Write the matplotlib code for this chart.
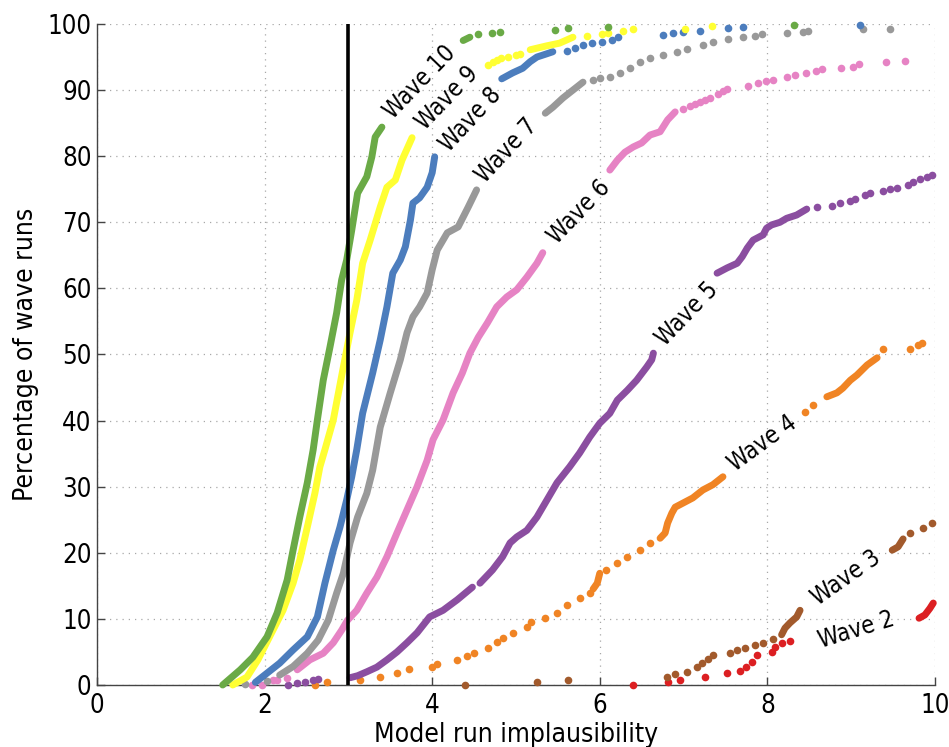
import numpy as np
import matplotlib
matplotlib.use('Agg')
import matplotlib.pyplot as plt

nan = np.nan

# ---------------- data ----------------
# Each wave: "line" = dense runs (drawn as thick line, nan separates runs),
#            "dot"  = isolated points
w10_line_x = [1.50, 1.71, 1.86, 2.03, 2.15, 2.27, 2.34, 2.42, 2.51, 2.58, 2.63, 2.70, 2.78, 2.86, 2.92, 2.98, 3.04, 3.11, 3.22, 3.28, 3.32, 3.40,
              nan, 4.37, 4.45]
w10_line_y = [0.0, 2.3, 4.2, 7.3, 10.9, 15.9, 20.4, 25.4, 30.6, 35.6, 40.1, 46.1, 51.1, 56.3, 61.3, 64.3, 68.8, 74.4, 76.9, 79.9, 82.9, 84.4,
              nan, 97.5, 98.0]
w10_dot_x = [4.55, 4.71, 4.81, 5.47, 5.62, 6.10, 8.32]
w10_dot_y = [98.5, 98.6, 98.8, 99.1, 99.4, 99.5, 99.8]

w9_line_x = [1.62, 1.79, 1.92, 2.06, 2.22, 2.34, 2.42, 2.51, 2.60, 2.66, 2.72, 2.82, 2.94, 3.02, 3.10, 3.17, 3.26, 3.38, 3.46, 3.56, 3.64, 3.76,
             nan, 5.17, 5.27, 5.37, 5.52, 5.68]
w9_line_y = [0.0, 1.2, 3.8, 7.3, 11.3, 15.4, 18.9, 23.9, 29.0, 33.0, 35.6, 40.1, 48.1, 53.3, 58.2, 63.8, 67.3, 72.3, 75.3, 76.4, 79.4, 82.8,
             nan, 96.1, 96.4, 96.7, 97.1, 98.0]
w9_dot_x = [4.67, 4.72, 4.77, 4.82, 4.90, 5.00, 5.05, 5.85, 6.03, 6.10, 6.28, 6.40, 7.02, 7.34]
w9_dot_y = [93.8, 94.2, 94.6, 94.8, 95.0, 95.3, 95.5, 98.2, 98.5, 98.6, 98.9, 99.2, 99.3, 99.7]

w8_line_x = [1.89, 2.03, 2.18, 2.34, 2.51, 2.63, 2.72, 2.82, 2.90, 2.98, 3.04, 3.10, 3.17, 3.29, 3.38, 3.46, 3.53, 3.62, 3.68, 3.74, 3.77, 3.85, 3.94, 4.00, 4.03,
             nan, 4.83, 4.96, 5.08, 5.17, 5.25, 5.37, 5.44]
w8_line_y = [0.4, 1.8, 3.3, 5.3, 7.3, 10.3, 15.4, 20.4, 23.9, 28.0, 31.5, 35.6, 41.1, 47.2, 52.2, 57.2, 62.3, 64.3, 66.3, 70.3, 72.9, 73.7, 75.3, 77.5, 79.9,
             nan, 91.7, 92.6, 93.3, 94.3, 95.0, 95.5, 95.8]
w8_dot_x = [5.61, 5.70, 5.80, 5.91, 6.03, 6.15, 6.22, 6.75, 6.87, 6.99, 7.20, 7.53, 7.71, 9.10]
w8_dot_y = [95.9, 96.4, 96.8, 97.1, 97.3, 97.6, 98.0, 98.3, 98.6, 98.8, 98.9, 99.4, 99.5, 99.8]

w7_line_x = [2.18, 2.34, 2.51, 2.64, 2.76, 2.86, 2.94, 3.02, 3.11, 3.22, 3.29, 3.38, 3.50, 3.62, 3.70, 3.77, 3.85, 3.94, 4.00, 4.06, 4.18, 4.31, 4.37, 4.43, 4.53,
             nan, 5.35, 5.44, 5.56, 5.68, 5.80]
w7_line_y = [1.5, 2.8, 4.8, 6.8, 9.8, 13.9, 16.9, 21.5, 25.4, 29.0, 32.5, 39.0, 44.2, 49.2, 53.3, 55.7, 57.2, 59.3, 62.8, 65.8, 68.4, 69.3, 70.8, 72.3, 74.9,
             nan, 86.5, 87.4, 88.8, 90.0, 91.2]
w7_dot_x = [1.77, 2.03, 5.92, 6.00, 6.12, 6.24, 6.36, 6.48, 6.60, 6.75, 6.92, 7.04, 7.23, 7.35, 7.53, 7.71, 7.85, 7.94, 8.23, 8.42, 8.48, 9.14, 9.46]
w7_dot_y = [0.2, 0.6, 91.5, 91.8, 92.0, 92.6, 93.3, 94.3, 94.9, 95.3, 95.8, 96.2, 96.8, 97.3, 97.7, 98.0, 98.2, 98.5, 98.6, 98.8, 98.9, 99.2, 99.3]

w6_line_x = [2.39, 2.54, 2.70, 2.82, 2.92, 2.99, 3.10, 3.22, 3.34, 3.46, 3.58, 3.70, 3.82, 3.94, 4.01, 4.13, 4.25, 4.36, 4.45, 4.55, 4.66, 4.77, 4.89, 5.01, 5.13, 5.25, 5.32,
             nan, 6.12, 6.21, 6.30, 6.40, 6.50, 6.60, 6.72, 6.81, 6.90]
w6_line_y = [2.3, 3.8, 4.8, 6.4, 8.3, 9.8, 11.3, 13.9, 16.3, 19.4, 23.0, 26.5, 30.0, 34.0, 37.1, 40.1, 44.2, 47.2, 50.2, 52.6, 54.8, 57.2, 58.7, 59.8, 61.7, 63.8, 65.4,
             nan, 77.9, 79.4, 80.6, 81.4, 82.0, 83.2, 83.7, 85.5, 86.7]
w6_dot_x = [1.85, 1.97, 2.10, 2.15, 2.27, 6.99, 7.08, 7.14, 7.20, 7.26, 7.32, 7.41, 7.47, 7.52, 7.77, 7.89, 7.98, 8.07, 8.23, 8.33, 8.46, 8.58, 8.65, 8.88, 9.02, 9.09, 9.42, 9.64]
w6_dot_y = [0.0, 0.0, 0.8, 0.8, 1.0, 87.1, 87.6, 87.9, 88.2, 88.5, 88.8, 89.4, 89.8, 90.2, 90.6, 91.1, 91.3, 91.5, 92.0, 92.3, 92.6, 92.9, 93.2, 93.3, 93.5, 93.9, 94.3, 94.4]

w5_line_x = [3.02, 3.11, 3.22, 3.34, 3.46, 3.58, 3.70, 3.82, 3.97, 4.13, 4.30, 4.48,
             nan, 4.57, 4.72, 4.84, 4.93, 5.01, 5.13, 5.25, 5.37, 5.49, 5.64, 5.76, 5.88, 6.00, 6.12, 6.21, 6.33, 6.44, 6.56, 6.62, 6.64,
             nan, 7.40, 7.52, 7.64, 7.70, 7.76, 7.83, 7.95, 7.99, 8.05, 8.15, 8.23, 8.35, 8.47]
w5_line_y = [1.1, 1.4, 2.0, 2.7, 3.8, 5.0, 6.4, 7.9, 10.3, 11.3, 12.9, 14.8,
             nan, 15.4, 17.4, 19.4, 21.5, 22.4, 23.4, 25.4, 28.0, 30.6, 33.0, 35.1, 37.5, 39.6, 41.1, 43.1, 44.6, 46.1, 48.1, 49.2, 50.2,
             nan, 62.3, 63.1, 63.8, 64.8, 66.1, 67.3, 68.1, 69.1, 69.6, 70.0, 70.6, 71.1, 72.0]
w5_dot_x = [2.28, 2.39, 2.48, 2.58, 2.64, 8.59, 8.77, 8.87, 8.99, 9.05, 9.16, 9.22, 9.38, 9.46, 9.55, 9.68, 9.74, 9.82, 9.90, 9.96]
w5_dot_y = [0.0, 0.3, 0.5, 0.8, 0.9, 72.3, 72.5, 72.9, 73.2, 73.5, 74.1, 74.4, 74.7, 75.0, 75.2, 75.6, 76.1, 76.5, 76.9, 77.2]

w4_line_x = [5.92, 5.97, 6.00, nan, 6.72, 6.78, 6.81, 6.86, 6.90, 6.99, 7.11, 7.23, 7.35, 7.47,
             nan, 8.71, 8.83, 8.90, 8.99, 9.07, 9.19, 9.31]
w4_line_y = [14.5, 15.4, 16.9, nan, 22.2, 23.0, 24.5, 26.0, 26.9, 27.5, 28.3, 29.5, 30.3, 31.5,
             nan, 43.6, 44.2, 44.9, 46.1, 46.9, 48.4, 49.5]
w4_dot_x = [2.60, 2.74, 3.14, 3.38, 3.58, 3.72, 4.00, 4.06, 4.30, 4.42, 4.50, 4.67, 4.77, 4.85, 4.96, 5.13, 5.18, 5.35, 5.49, 5.61, 5.76, 5.88,
            6.08, 6.21, 6.32, 6.48, 6.60, 8.45, 8.55, 9.38, 9.70, 9.80, 9.84]
w4_dot_y = [0.0, 0.4, 0.8, 1.2, 1.8, 2.4, 2.7, 3.2, 3.8, 4.4, 4.8, 5.6, 6.5, 7.1, 7.9, 8.8, 9.5, 10.1, 10.9, 12.1, 13.2, 13.9,
            17.4, 18.5, 19.4, 20.4, 21.5, 41.3, 42.4, 50.8, 50.8, 51.4, 51.7]

w3_line_x = [8.17, 8.21, 8.27, 8.35, 8.39, nan, 9.49, 9.56, 9.62]
w3_line_y = [7.6, 8.6, 9.4, 10.3, 11.3, nan, 20.4, 20.9, 22.1]
w3_dot_x = [4.39, 5.25, 5.62, 6.80, 6.90, 7.04, 7.16, 7.22, 7.29, 7.35, 7.55, 7.64, 7.73, 7.85, 7.95, 8.07, 9.70, 9.86, 9.96]
w3_dot_y = [0.0, 0.4, 0.8, 1.2, 1.7, 2.0, 2.7, 3.4, 4.0, 4.5, 4.8, 5.3, 5.6, 6.1, 6.4, 6.9, 23.0, 23.7, 24.5]

w2_line_x = [9.81, 9.88, 9.94, 9.98]
w2_line_y = [10.1, 10.6, 11.6, 12.4]
w2_dot_x = [6.40, 6.81, 6.96, 7.26, 7.52, 7.67, 7.75, 7.82, 7.88, 8.05, 8.09, 8.17, 8.27]
w2_dot_y = [0.0, 0.4, 0.8, 1.2, 1.8, 2.1, 2.7, 3.5, 4.5, 5.0, 5.8, 6.3, 6.6]

wave_names = ['Wave 2', 'Wave 3', 'Wave 4', 'Wave 5', 'Wave 6', 'Wave 7', 'Wave 8', 'Wave 9', 'Wave 10']
threshold_x = 3.0

x_ticks = [0, 2, 4, 6, 8, 10]
y_ticks = [0, 10, 20, 30, 40, 50, 60, 70, 80, 90, 100]

# ---------------- styling ----------------
colors = ['#DC1F22', '#A25A2C', '#F08424', '#8B4EA0', '#E683C4', '#999999', '#4C7DBD', '#FFFF33', '#6AAA46']
label_pos = [(9.06, 8.3, 17), (8.94, 16.2, 35), (7.94, 36.6, 36), (7.04, 56.1, 46), (5.75, 71.6, 46),
             (4.89, 80.9, 47), (4.46, 85.5, 47), (4.18, 88.8, 46), (3.85, 91.2, 46)]

waves = [
    (w2_line_x, w2_line_y, w2_dot_x, w2_dot_y),
    (w3_line_x, w3_line_y, w3_dot_x, w3_dot_y),
    (w4_line_x, w4_line_y, w4_dot_x, w4_dot_y),
    (w5_line_x, w5_line_y, w5_dot_x, w5_dot_y),
    (w6_line_x, w6_line_y, w6_dot_x, w6_dot_y),
    (w7_line_x, w7_line_y, w7_dot_x, w7_dot_y),
    (w8_line_x, w8_line_y, w8_dot_x, w8_dot_y),
    (w9_line_x, w9_line_y, w9_dot_x, w9_dot_y),
    (w10_line_x, w10_line_y, w10_dot_x, w10_dot_y),
]

plt.rcParams['font.family'] = ['DejaVu Sans']
plt.rcParams['font.stretch'] = 'condensed'

fig = plt.figure(figsize=(9.49, 7.47), dpi=100)
ax = fig.add_axes([0.1022, 0.0830, 0.8830, 0.8849])

for (lx, ly, dx, dy), c in zip(waves, colors):
    ax.plot(lx, ly, '-', color=c, lw=5, solid_capstyle='round', solid_joinstyle='round',
            clip_on=False, zorder=3)
    ax.plot(dx, dy, 'o', color=c, ms=5.5, mec='none', clip_on=False, zorder=3)

for name, (tx, ty, rot) in zip(wave_names, label_pos):
    ax.text(tx, ty, name, rotation=rot, rotation_mode='anchor', ha='center', va='center',
            fontsize=17, color='black', zorder=5)

ax.axvline(threshold_x, color='black', lw=2.6, zorder=6)

ax.set_xlim(0, 10)
ax.set_ylim(0, 100)
ax.set_xticks(x_ticks)
ax.set_yticks(y_ticks)
ax.set_xticklabels([str(v) for v in x_ticks])
ax.set_yticklabels([str(v) for v in y_ticks])
ax.grid(True, linestyle=(0, (1, 4)), color='#a8a8a8', lw=0.9)
ax.set_axisbelow(True)
for s in ['top', 'right']:
    ax.spines[s].set_visible(False)
for s in ['left', 'bottom']:
    ax.spines[s].set_color('#444444')
    ax.spines[s].set_linewidth(1.0)
ax.tick_params(direction='in', length=6, width=1, color='#444444', labelsize=18.5, pad=4)
ax.tick_params(axis='x', pad=6)

ax.set_xlabel('Model run implausibility', fontsize=19, labelpad=2)
ax.set_ylabel('Percentage of wave runs', fontsize=19, labelpad=6)

fig.savefig('out.png', dpi=100)
